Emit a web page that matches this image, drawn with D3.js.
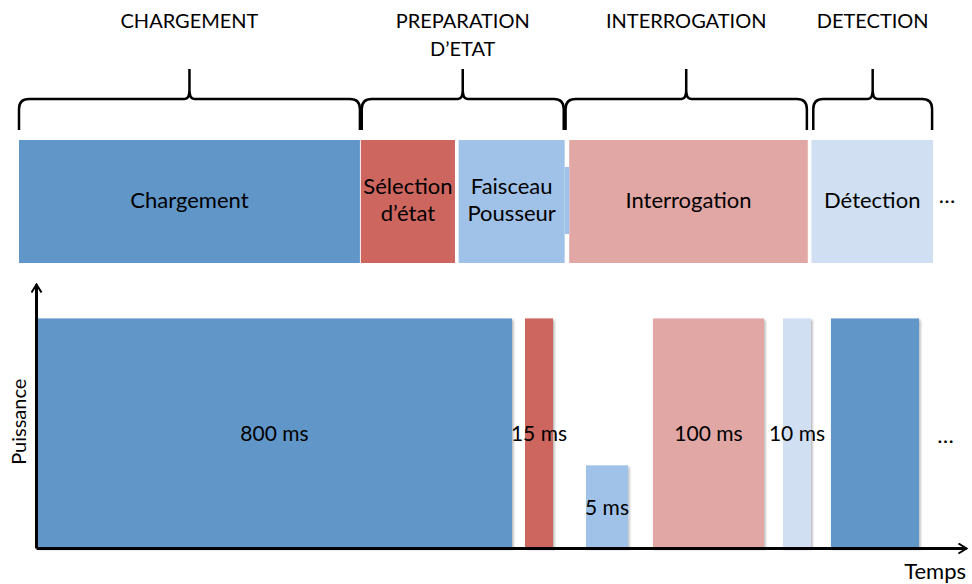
<!DOCTYPE html>
<html>
<head>
<meta charset="utf-8">
<script src="https://cdn.jsdelivr.net/npm/d3@7"></script>
<style>
  body { margin: 0; background: #fff; }
  text { font-family: Lato, "Open Sans", sans-serif; fill: #000; }
</style>
</head>
<body>
<div id="chart"></div>
<script>

// phases du cycle (accolades du haut), en unites de la frise 0..100
var phaseNames = ['CHARGEMENT', 'PREPARATION\nD\u2019ETAT', 'INTERROGATION', 'DETECTION'];
var phaseStart = [0, 37.5, 59.8, 86.9];
var phaseEnd = [37.3, 59.6, 86.2, 99.9];

// etapes (blocs du haut)
var stepNames = ['Chargement', 'S\u00e9lection\nd\u2019\u00e9tat', 'Faisceau\nPousseur', 'Interrogation', 'D\u00e9tection'];
var stepStart = [0, 37.4, 48.1, 60.2, 86.7];
var stepEnd = [37.3, 47.7, 59.7, 86.3, 100];

// impulsions (graphique du bas), temps schematique 0..1000, puissance relative
var pulseLabels = ['800 ms', '15 ms', '5 ms', '100 ms', '10 ms', ''];
var pulseStep = [0, 1, 2, 3, 4, 0];
var pulseStart = [1.1, 525.8, 591.4, 663.4, 803.2, 854.8];
var pulseEnd = [511.8, 555.9, 636.6, 782.8, 833.3, 949.5];
var pulsePower = [1, 1, 0.36, 1, 1, 1];

var stepColors = ['#6096c8', '#cc665f', '#a0c2e8', '#e1a7a5', '#d0e0f2'];

var width = 972;
var height = 584;

var svg = d3.select('#chart')
    .append('svg')
        .attr('width', width)
        .attr('height', height);

var defs = svg.append('defs');
defs.append('marker')
    .attr('id', 'arrow')
    .attr('viewBox', '0 0 12 12')
    .attr('refX', 10)
    .attr('refY', 6)
    .attr('markerWidth', 4)
    .attr('markerHeight', 4)
    .attr('orient', 'auto')
    .append('path')
        .attr('d', 'M2,1 L10,6 L2,11')
        .attr('fill', 'none')
        .attr('stroke', '#000')
        .attr('stroke-width', 2);

var shadow = defs.append('filter')
    .attr('id', 'shadow')
    .attr('x', '-10%').attr('y', '-10%')
    .attr('width', '130%').attr('height', '130%');
shadow.append('feDropShadow')
    .attr('dx', 1.5).attr('dy', 1.5)
    .attr('stdDeviation', 1)
    .attr('flood-color', '#000')
    .attr('flood-opacity', 0.3);

/** Frise du haut */
var xPhase = d3.scaleLinear()
    .domain([0, 100])
    .range([19, 933]);

var braceTop = 99, braceBottom = 130, braceTip = 69, r = 10;

function bracePath(x0, x1) {
    var xm = (x0 + x1) / 2;
    return 'M' + x0 + ',' + braceBottom +
        ' L' + x0 + ',' + (braceTop + r) +
        ' Q' + x0 + ',' + braceTop + ' ' + (x0 + r) + ',' + braceTop +
        ' L' + (xm - 5) + ',' + braceTop +
        ' Q' + xm + ',' + braceTop + ' ' + xm + ',' + (braceTop - 9) +
        ' L' + xm + ',' + braceTip +
        ' M' + xm + ',' + (braceTop - 9) +
        ' Q' + xm + ',' + braceTop + ' ' + (xm + 5) + ',' + braceTop +
        ' L' + (x1 - r) + ',' + braceTop +
        ' Q' + x1 + ',' + braceTop + ' ' + x1 + ',' + (braceTop + r) +
        ' L' + x1 + ',' + braceBottom;
}

var phases = phaseNames.map(function(d, i) {
    return { name: d, start: phaseStart[i], end: phaseEnd[i] };
});

svg.selectAll('.brace')
    .data(phases)
    .enter().append('path')
        .attr('class', 'brace')
        .attr('d', function(d) { return bracePath(xPhase(d.start), xPhase(d.end)); })
        .attr('fill', 'none')
        .attr('stroke', '#000')
        .attr('stroke-width', 2.5);

svg.selectAll('.phase-label')
    .data(phases)
    .enter().append('text')
        .attr('class', 'phase-label')
        .attr('text-anchor', 'middle')
        .attr('font-size', 20)
        .each(function(d) {
            var lines = d.name.split('\n');
            var t = d3.select(this);
            lines.forEach(function(l, i) {
                t.append('tspan')
                    .attr('x', (xPhase(d.start) + xPhase(d.end)) / 2)
                    .attr('y', 28 + i * 28)
                    .text(l);
            });
        });

var steps = stepNames.map(function(d, i) {
    return { name: d, start: stepStart[i], end: stepEnd[i], color: stepColors[i] };
});

var blockTop = 140, blockBottom = 263;

svg.selectAll('.step')
    .data(steps)
    .enter().append('rect')
        .attr('class', 'step')
        .attr('x', function(d) { return xPhase(d.start); })
        .attr('y', blockTop)
        .attr('width', function(d) { return xPhase(d.end) - xPhase(d.start); })
        .attr('height', blockBottom - blockTop)
        .attr('fill', function(d) { return d.color; });

// la zone de texte du faisceau pousseur deborde jusqu'au bloc suivant
svg.append('rect')
    .attr('x', xPhase(stepEnd[2]))
    .attr('y', blockTop + 27)
    .attr('width', xPhase(stepStart[3]) - xPhase(stepEnd[2]))
    .attr('height', 67)
    .attr('fill', stepColors[2]);

svg.selectAll('.step-label')
    .data(steps)
    .enter().append('text')
        .attr('class', 'step-label')
        .attr('text-anchor', 'middle')
        .attr('font-size', 22)
        .each(function(d) {
            var lines = d.name.split('\n');
            var t = d3.select(this);
            var cy = (blockTop + blockBottom) / 2 + 6;
            lines.forEach(function(l, i) {
                t.append('tspan')
                    .attr('x', (xPhase(d.start) + xPhase(d.end)) / 2)
                    .attr('y', cy + (i - (lines.length - 1) / 2) * 27)
                    .text(l);
            });
        });

svg.append('text')
    .attr('x', xPhase(100) + 14)
    .attr('y', 203)
    .attr('text-anchor', 'middle')
    .attr('font-size', 22)
    .text('\u2026');

/** Graphique du bas */
var x = d3.scaleLinear()
    .domain([0, 1000])
    .range([36, 966]);

var y = d3.scaleLinear()
    .domain([0, 1.15])
    .range([548, 284]);

var pulses = pulseLabels.map(function(d, i) {
    return {
        label: d, start: pulseStart[i], end: pulseEnd[i],
        power: pulsePower[i], color: stepColors[pulseStep[i]]
    };
});

svg.selectAll('.pulse')
    .data(pulses)
    .enter().append('rect')
        .attr('class', 'pulse')
        .attr('x', function(d) { return x(d.start); })
        .attr('y', function(d) { return y(d.power); })
        .attr('width', function(d) { return x(d.end) - x(d.start); })
        .attr('height', function(d) { return y(0) - y(d.power); })
        .attr('fill', function(d) { return d.color; })
        .attr('filter', 'url(#shadow)');

svg.selectAll('.pulse-label')
    .data(pulses)
    .enter().append('text')
        .attr('class', 'pulse-label')
        .attr('text-anchor', 'middle')
        .attr('font-size', 21)
        .attr('x', function(d) { return (x(d.start) + x(d.end)) / 2; })
        .attr('y', function(d) { return y(d.power / 2) + 8; })
        .text(function(d) { return d.label; });

svg.append('text')
    .attr('x', x(978))
    .attr('y', 443)
    .attr('text-anchor', 'middle')
    .attr('font-size', 22)
    .text('\u2026');

var xAxis = d3.axisBottom(x).tickValues([]).tickSizeOuter(0);
var yAxis = d3.axisLeft(y).tickValues([]).tickSizeOuter(0);

var gx = svg.append('g')
    .attr('transform', 'translate(0,' + y(0) + ')')
    .call(xAxis);
var gy = svg.append('g')
    .attr('transform', 'translate(' + x(0) + ',0)')
    .call(yAxis);

[gx, gy].forEach(function(g) {
    g.select('.domain')
        .attr('stroke', '#000')
        .attr('stroke-width', 3)
        .attr('marker-end', 'url(#arrow)');
});

svg.append('text')
    .attr('x', x(1000))
    .attr('y', 579)
    .attr('text-anchor', 'end')
    .attr('font-size', 22)
    .text('Temps');

svg.append('text')
    .attr('transform', 'translate(26,' + y(0.55) + ') rotate(-90)')
    .attr('text-anchor', 'middle')
    .attr('font-size', 20)
    .text('Puissance');

</script>
</body>
</html>
